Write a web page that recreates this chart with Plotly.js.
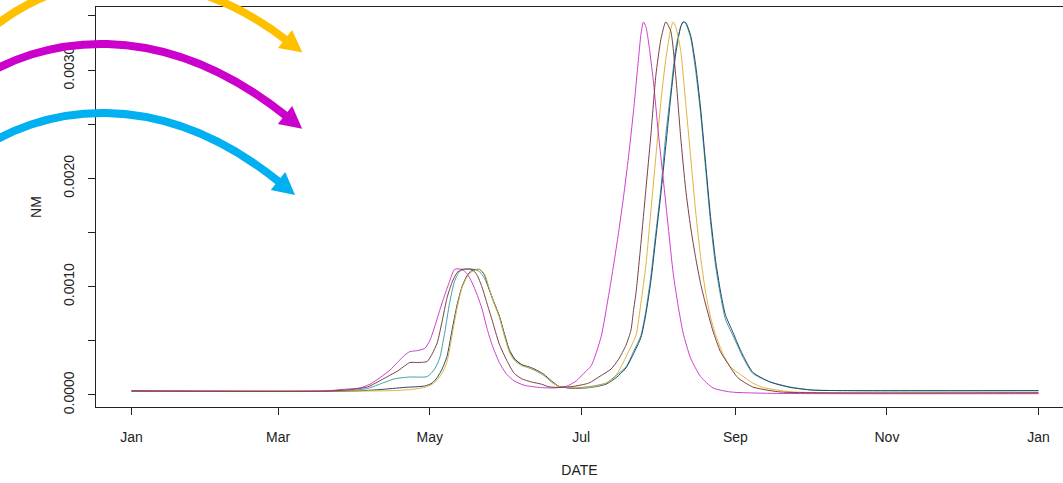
<!DOCTYPE html>
<html>
<head>
<meta charset="utf-8">
<script src="https://cdn.plot.ly/plotly-3.0.1.min.js"></script>
<style>html,body{margin:0;padding:0;background:#fff;}#chart{width:1063px;height:483px;}</style>
</head>
<body>
<div id="chart"></div>
<script>
// ---- data: day offsets from 1 Jan and NM values ----
const magentaDay = [0,78,84,92,96,100,104,107,110,112,115,118,120,122,124,126,128,130,133,135,137,139,141,143,145,148,151,154,158,164,170,175,179,182,185,189,192,194,196,198,200,202,204,205,206,207,208,210,212,214,216,218,220,222,225,229,234,241,258,365];
const magentaNM  = [0.000037,0.000037,0.00005,0.000065,0.0001,0.00016,0.00023,0.0003,0.00037,0.0004,0.00041,0.00043,0.0005,0.00063,0.00078,0.00092,0.00105,0.00116,0.00116,0.00112,0.00104,0.00093,0.0008,0.00062,0.00047,0.0003,0.00019,0.00013,0.00009,0.00007,0.000065,0.00008,0.00013,0.0002,0.00027,0.00054,0.00092,0.0012,0.0015,0.00183,0.0022,0.00262,0.0031,0.00333,0.003445,0.0034,0.00327,0.0029,0.00242,0.00199,0.00155,0.00112,0.00082,0.00057,0.00034,0.00017,0.000065,0.000028,0.000015,0.000012];

const brownDay = [0,80,88,95,99,103,107,110,112,116,119,121,123,125,127,129,131,133,137,139,141,143,145,148,151,154,157,161,165,168,173,178,184,189,193,196,199,201,202,203,205,207,209,211,213,215,217,219,221,223,225,227,229,231,234,237,240,244,250,261,278,365];
const brownNM  = [0.000037,0.000037,0.00005,0.000074,0.00012,0.00017,0.00022,0.00027,0.0003,0.0003,0.00031,0.00038,0.00048,0.00068,0.0009,0.00104,0.00113,0.00116,0.00116,0.00111,0.001,0.00085,0.0007,0.00047,0.00032,0.0002,0.00015,0.00012,0.0001,0.000075,0.00007,0.00008,0.00011,0.00018,0.00024,0.00033,0.00046,0.0006,0.00078,0.00094,0.0014,0.0019,0.0024,0.00295,0.00328,0.003445,0.00336,0.00295,0.00238,0.0019,0.00155,0.00127,0.00103,0.00084,0.00059,0.0004,0.00029,0.00016,0.000074,0.000028,0.00002,0.00002];

const yellowDay = [0,95,105,112,118,121,123,125,127,129,131,133,135,137,140,142,144,146,148,150,152,154,157,160,163,166,169,172,178,184,190,194,197,200,203,205,207,209,211,213,215,217,218,219,221,223,225,227,229,231,233,235,238,241,245,250,254,265,280,365];
const yellowNM  = [0.000037,0.000037,0.00004,0.00005,0.00007,0.0001,0.00014,0.0002,0.00031,0.00055,0.0008,0.00099,0.00109,0.00114,0.00116,0.00112,0.00098,0.00084,0.00072,0.00055,0.0004,0.00032,0.00027,0.00025,0.00022,0.00018,0.00012,0.00008,0.000065,0.00007,0.0001,0.00015,0.00026,0.0004,0.00055,0.00085,0.0012,0.0017,0.0022,0.0027,0.0031,0.00338,0.003445,0.0034,0.00318,0.0027,0.0022,0.0017,0.00128,0.00095,0.00072,0.00056,0.00038,0.00026,0.00019,0.00011,0.00007,0.00003,0.00002,0.00002];

const tealDay = [0,85,95,101,106,112,119,122,124,126,128,130,132,134,138,140,142,144,146,148,150,152,154,157,160,163,166,169,172,178,185,191,195,199,202,205,207,209,211,213,215,217,219,221,222,223,225,227,229,231,233,235,237,239,242,244,246,250,257,265,274,290,365];
const tealNM  = [0.000037,0.000037,0.00006,0.00011,0.00015,0.000166,0.00017,0.00024,0.00034,0.00057,0.00085,0.00105,0.00114,0.00116,0.00116,0.00114,0.00108,0.00097,0.00084,0.00073,0.00056,0.00041,0.00033,0.00028,0.00025,0.00022,0.00018,0.00012,0.00008,0.000065,0.00008,0.00011,0.00018,0.00026,0.0004,0.00055,0.00078,0.0011,0.0015,0.0019,0.0024,0.0028,0.0032,0.0034,0.003445,0.00343,0.0033,0.003,0.0026,0.0021,0.0016,0.0012,0.00092,0.0007,0.00055,0.00045,0.00035,0.0002,0.00012,0.000074,0.000046,0.00004,0.00004];

const navyDay = [0,90,100,110,118,121,123,125,127,129,131,133,135,137,140,142,144,146,148,150,152,154,157,160,163,166,169,172,178,185,191,195,199,202,205,207,209,211,213,215,217,219,221,222,223,225,227,229,231,233,235,237,239,242,244,246,250,257,265,274,290,365];
const navyNM  = [0.000037,0.000037,0.00005,0.00007,0.000083,0.00011,0.00016,0.00024,0.00036,0.0006,0.00083,0.001,0.0011,0.00115,0.00116,0.00111,0.00097,0.00085,0.00073,0.00057,0.00042,0.00034,0.00028,0.00026,0.00023,0.00019,0.00013,0.00008,0.00006,0.00007,0.0001,0.00016,0.00025,0.00038,0.00053,0.00075,0.00105,0.00145,0.00185,0.0023,0.00275,0.00315,0.0034,0.003445,0.00344,0.00332,0.00305,0.00265,0.00215,0.00165,0.00125,0.00096,0.00074,0.00058,0.00047,0.00037,0.00021,0.00012,0.00007,0.000045,0.00004,0.00004];

const xTickVals = ['2021-01-01','2021-03-01','2021-05-01','2021-07-01','2021-09-01','2021-11-01','2022-01-01'];
const xTickText = ['Jan','Mar','May','Jul','Sep','Nov','Jan'];
const yTickVals = [0,0.0005,0.0010,0.0015,0.0020,0.0025,0.0030,0.0035];
const yTickText = ['0.0000','','0.0010','','0.0020','','0.0030',''];

// ---- helpers ----
const year0 = Date.UTC(2021,0,1);
function toDate(d){ return new Date(year0 + d*864e5).toISOString().slice(0,10); }

function line(days, vals, color){
  return {x: days.map(toDate), y: vals, type:'scatter', mode:'lines',
          line:{color:color, width:1, shape:'spline', smoothing:0.6}, hoverinfo:'skip'};
}

const traces = [
  line(tealDay, tealNM, '#45A0A8'),
  line(navyDay, navyNM, '#264A66'),
  line(yellowDay, yellowNM, '#E2B33A'),
  line(magentaDay, magentaNM, '#CD3FCD'),
  line(brownDay, brownNM, '#7A4040')
];

// ---- decorative arrows (pixel -> paper) ----
const PL=96, PT=7, PW=967, PH=400;
const px = x => (x-PL)/PW;
const py = y => (PT+PH-y)/PH;
function arrow(p0,c1,c2,e,color){
  const dx=e[0]-c2[0], dy=e[1]-c2[1], n=Math.hypot(dx,dy);
  const ux=dx/n, uy=dy/n, nx=-uy, ny=ux;
  const len=22, hw=11.5;
  const le=[e[0]+ux*3, e[1]+uy*3];
  const tip=[e[0]+ux*len, e[1]+uy*len];
  const b1=[e[0]+nx*hw, e[1]+ny*hw], b2=[e[0]-nx*hw, e[1]-ny*hw];
  const P=p=>px(p[0])+','+py(p[1]);
  return [
    {type:'path', xref:'paper', yref:'paper', layer:'above',
     path:'M '+P(p0)+' C '+P(c1)+' '+P(c2)+' '+P(le),
     line:{color:color, width:8}, fillcolor:'rgba(0,0,0,0)'},
    {type:'path', xref:'paper', yref:'paper', layer:'above',
     path:'M '+P(tip)+' L '+P(b1)+' L '+P(b2)+' Z',
     line:{width:0}, fillcolor:color}
  ];
}
const shapes = [].concat(
  arrow([-30,50],[40,-30],[170,-50],[285,39],'#FFC000'),
  arrow([-30,85],[40,35],[160,15],[285,115],'#CC00CC'),
  arrow([-30,157],[40,103],[160,85],[278,181],'#00B0F0')
);

const font = {family:'"Liberation Sans", Arial, sans-serif', size:14, color:'#222'};
const layout = {
  width:1063, height:483,
  margin:{l:96, r:0, t:7, b:76, pad:0},
  paper_bgcolor:'#fff', plot_bgcolor:'#fff',
  showlegend:false,
  font:font,
  xaxis:{type:'date', range:['2020-12-17 17:00','2022-01-10 20:24'],
         tickvals:xTickVals, ticktext:xTickText, ticks:'outside', ticklen:7, tickcolor:'#222', tickwidth:1,
         showline:true, linecolor:'#222', linewidth:1, mirror:true, showgrid:false, zeroline:false,
         ticklabelstandoff:10, tickfont:font,
         title:{text:'DATE', font:font, standoff:21}},
  yaxis:{range:[-0.000111, 0.003583], tickvals:yTickVals, ticktext:yTickText, tickangle:-90,
         ticks:'outside', ticklen:7, tickcolor:'#222', tickwidth:1,
         showline:true, linecolor:'#222', linewidth:1, mirror:false, showgrid:false, zeroline:false,
         ticklabelstandoff:8, tickfont:font,
         title:{text:'NM', font:font, standoff:16}},
  shapes:shapes
};
Plotly.newPlot('chart', traces, layout, {staticPlot:true, displayModeBar:false});
</script>
</body>
</html>
